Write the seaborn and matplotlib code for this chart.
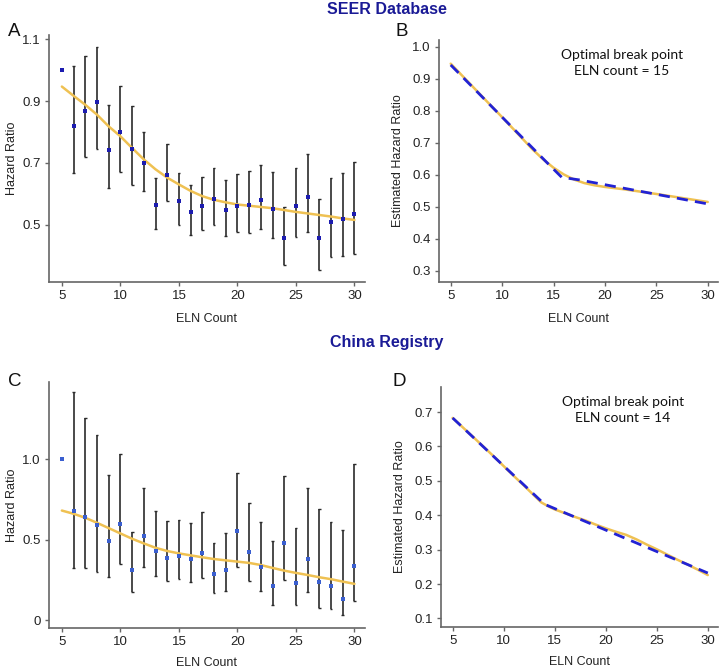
import numpy as np
import pandas as pd
import matplotlib
matplotlib.use("Agg")
import matplotlib.pyplot as plt
import seaborn as sns

# ---- data ----
eln = list(range(5, 31))

seer_hr = [1.000, 0.820, 0.867, 0.896, 0.741, 0.799, 0.746, 0.700, 0.563, 0.662,
           0.577, 0.542, 0.560, 0.584, 0.546, 0.561, 0.563, 0.581, 0.552, 0.455,
           0.560, 0.590, 0.455, 0.508, 0.517, 0.534]
seer_hi = [np.nan, 1.012, 1.047, 1.076, 0.888, 0.948, 0.885, 0.800, 0.650, 0.760,
           0.667, 0.628, 0.654, 0.684, 0.644, 0.664, 0.673, 0.694, 0.670, 0.558,
           0.683, 0.730, 0.584, 0.650, 0.668, 0.702]
seer_lo = [np.nan, 0.666, 0.719, 0.744, 0.617, 0.671, 0.628, 0.610, 0.487, 0.577,
           0.498, 0.466, 0.481, 0.500, 0.462, 0.475, 0.472, 0.485, 0.455, 0.370,
           0.459, 0.477, 0.354, 0.395, 0.398, 0.404]
seer_smooth = [0.947, 0.917, 0.888, 0.856, 0.818, 0.786, 0.748, 0.711, 0.679, 0.652,
               0.630, 0.609, 0.592, 0.580, 0.572, 0.565, 0.561, 0.557, 0.553, 0.547,
               0.541, 0.536, 0.531, 0.526, 0.520, 0.515]

china_hr = [1.000, 0.680, 0.639, 0.588, 0.493, 0.596, 0.309, 0.522, 0.429, 0.388,
            0.398, 0.377, 0.419, 0.285, 0.313, 0.551, 0.421, 0.332, 0.212, 0.476,
            0.233, 0.381, 0.239, 0.212, 0.130, 0.336]
china_hi = [np.nan, 1.417, 1.254, 1.148, 0.899, 1.029, 0.550, 0.821, 0.678, 0.616,
            0.623, 0.600, 0.668, 0.480, 0.538, 0.911, 0.728, 0.608, 0.489, 0.895,
            0.571, 0.821, 0.691, 0.612, 0.559, 0.969]
china_lo = [np.nan, 0.326, 0.326, 0.299, 0.268, 0.346, 0.173, 0.332, 0.272, 0.245,
            0.254, 0.237, 0.260, 0.169, 0.181, 0.332, 0.243, 0.181, 0.091, 0.252,
            0.093, 0.177, 0.078, 0.072, 0.031, 0.120]
china_smooth = [0.680, 0.660, 0.635, 0.604, 0.571, 0.538, 0.505, 0.476, 0.449, 0.429,
                0.414, 0.402, 0.390, 0.379, 0.371, 0.363, 0.355, 0.342, 0.324, 0.307,
                0.293, 0.280, 0.266, 0.254, 0.239, 0.225]

# estimated HR curves (panels B, D)
seer_fit_x = [5, 7, 9, 10, 11, 12, 13, 14, 15, 16, 17, 18, 19, 20, 22, 25, 28, 30]
seer_fit_y = [0.947, 0.880, 0.813, 0.780, 0.746, 0.712, 0.678, 0.648, 0.622, 0.601,
              0.585, 0.574, 0.567, 0.562, 0.554, 0.540, 0.525, 0.515]
seer_break_x = [5, 14.3, 15.8, 17.5, 30]
seer_break_y = [0.943, 0.640, 0.592, 0.584, 0.509]

china_fit_x = [5, 7, 9, 10, 11, 12, 13, 13.7, 14.5, 15, 16, 17, 18, 19, 20, 21, 22,
               23, 24, 25, 26, 27, 28, 29, 30]
china_fit_y = [0.683, 0.628, 0.572, 0.543, 0.514, 0.486, 0.457, 0.437, 0.424, 0.417,
               0.406, 0.395, 0.385, 0.373, 0.362, 0.352, 0.343, 0.330, 0.315, 0.301,
               0.286, 0.271, 0.257, 0.242, 0.226]
china_break_x = [5, 14, 30]
china_break_y = [0.683, 0.432, 0.232]

# ---- style ----
sns.set_theme(style="ticks")
plt.rcParams["font.family"] = ["Liberation Sans", "DejaVu Sans"]

ORANGE = "#EFC152"
DASH_BLUE = "#2222D4"
TITLE_BLUE = "#1A1A96"
SPINE = "#666666"

W, H = 720, 671
fig = plt.figure(figsize=(W / 100, H / 100), dpi=100)


def add_ax(left, top, right, bottom):
    return fig.add_axes([left / W, 1 - bottom / H, (right - left) / W, (bottom - top) / H])


def style_ax(ax, ylabel, xpad, ypad):
    sns.despine(ax=ax)
    for s in ("left", "bottom"):
        ax.spines[s].set_color(SPINE)
        ax.spines[s].set_linewidth(1.2)
    ax.tick_params(axis="both", colors=SPINE, labelcolor="#222222", labelsize=9.5,
                   length=3, width=1, pad=3)
    ax.set_xticks([5, 10, 15, 20, 25, 30])
    ax.set_xlabel("ELN Count", fontsize=9, color="#222222", labelpad=xpad)
    ax.set_ylabel(ylabel, fontsize=9, color="#222222", labelpad=ypad)


def hr_panel(ax, hr, lo, hi, smooth, point_color, ylim, yticks, yticklabels):
    df = pd.DataFrame({"eln": eln, "hr": hr, "lo": lo, "hi": hi, "smooth": smooth})
    bars = df.dropna()
    ax.vlines(bars["eln"], bars["lo"], bars["hi"], color="#2b2b2b", linewidth=1.2, zorder=2)
    for col in ("lo", "hi"):
        ax.hlines(bars[col], bars["eln"] - 0.12, bars["eln"] + 0.12, color="#2b2b2b",
                  linewidth=1.0, zorder=2)
    sns.lineplot(data=df, x="eln", y="smooth", ax=ax, color=ORANGE, linewidth=1.8, zorder=3)
    sns.scatterplot(data=df, x="eln", y="hr", ax=ax, color=point_color, marker="s", s=7,
                    linewidth=0, zorder=4)
    ax.set_xlim(3.9, 30.9)
    ax.set_ylim(*ylim)
    ax.set_yticks(yticks)
    ax.set_yticklabels(yticklabels)


def fit_panel(ax, fx, fy, bx, by, ylim, yticks, label):
    fit = pd.DataFrame({"x": fx, "y": fy})
    brk = pd.DataFrame({"x": bx, "y": by})
    sns.lineplot(data=fit, x="x", y="y", ax=ax, color=ORANGE, linewidth=1.8, zorder=2)
    sns.lineplot(data=brk, x="x", y="y", ax=ax, color=DASH_BLUE, linewidth=2.0,
                 dashes=False, zorder=3).lines[-1].set_dashes([4, 2.6])
    ax.set_xlim(3.86, 31.0)
    ax.set_ylim(*ylim)
    ax.set_yticks(yticks)
    ax.set_yticklabels([f"{t:.1f}" for t in yticks])
    ax.text(0.656, 0.905, "Optimal break point\n" + label, transform=ax.transAxes,
            ha="center", va="center", fontsize=10, family=["Lato", "DejaVu Sans"],
            color="#111111", linespacing=1.4)


# panel A
axA = add_ax(49, 35, 365, 282)
hr_panel(axA, seer_hr, seer_lo, seer_hi, seer_smooth, "#1C1CB0",
         (0.314, 1.114), [0.5, 0.7, 0.9, 1.1], ["0.5", "0.7", "0.9", "1.1"])
style_ax(axA, "Hazard Ratio", 8, 3)

# panel B
axB = add_ax(439, 40, 718, 282)
fit_panel(axB, seer_fit_x, seer_fit_y, seer_break_x, seer_break_y,
          (0.265, 1.021), [0.3, 0.4, 0.5, 0.6, 0.7, 0.8, 0.9, 1.0], "ELN count = 15")
style_ax(axB, "Estimated Hazard Ratio", 8, 6)

# panel C
axC = add_ax(49, 382, 365, 628)
hr_panel(axC, china_hr, china_lo, china_hi, china_smooth, "#3A5FD0",
         (-0.049, 1.478), [0, 0.5, 1.0], ["0", "0.5", "1.0"])
style_ax(axC, "Hazard Ratio", 6.5, 3)

# panel D
axD = add_ax(441, 387, 718, 627)
fit_panel(axD, china_fit_x, china_fit_y, china_break_x, china_break_y,
          (0.075, 0.773), [0.1, 0.2, 0.3, 0.4, 0.5, 0.6, 0.7], "ELN count = 14")
style_ax(axD, "Estimated Hazard Ratio", 6.5, 6)

# panel letters and section titles
for letter, x, y in (("A", 8, 31), ("B", 395, 31), ("C", 8, 382), ("D", 393, 382)):
    fig.text(x / W, 1 - y / H, letter, fontsize=13.5, ha="left", va="center", color="#111111")
fig.text(387 / W, 1 - 10 / H, "SEER Database", fontsize=11.5, fontweight="bold",
         ha="center", va="center", color=TITLE_BLUE)
fig.text(387 / W, 1 - 343 / H, "China Registry", fontsize=11.5, fontweight="bold",
         ha="center", va="center", color=TITLE_BLUE)

fig.savefig("out.png", dpi=100)
